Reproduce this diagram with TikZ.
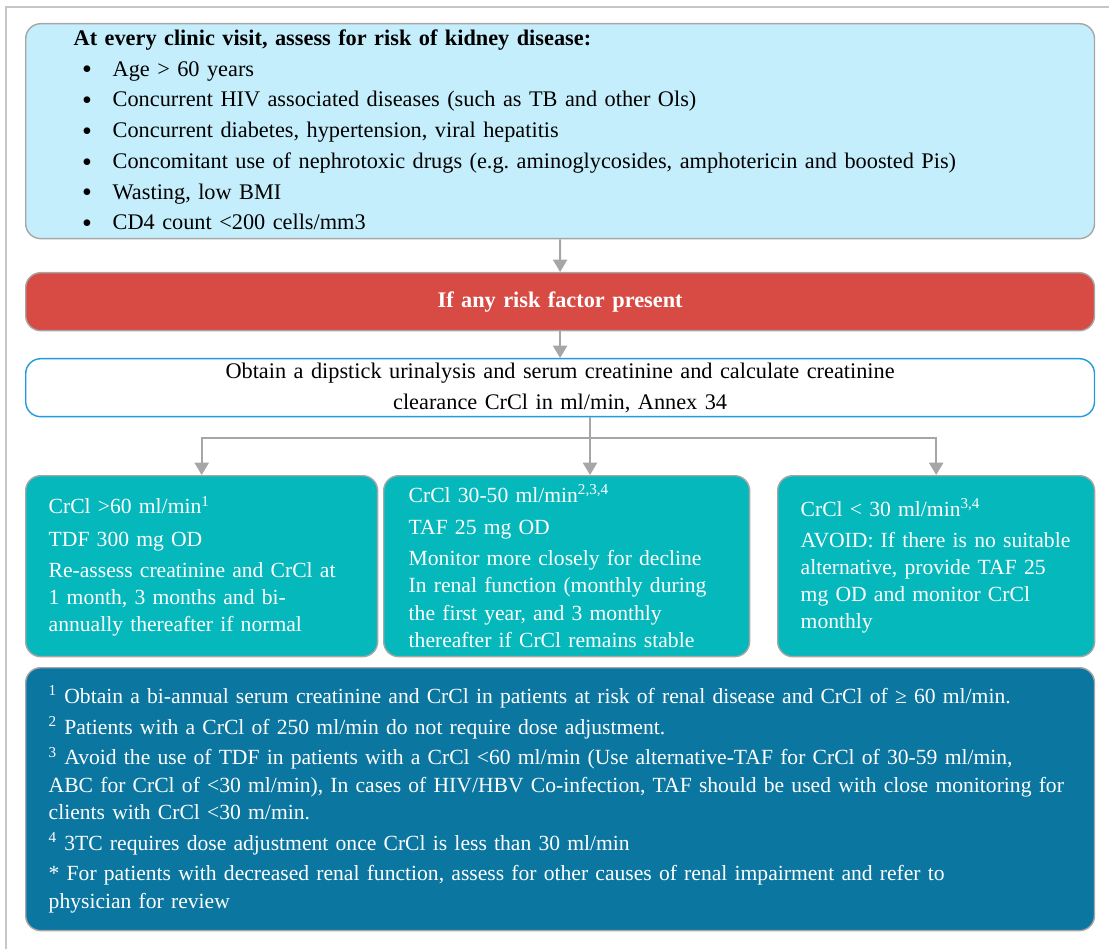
\documentclass[tikz,border=0pt]{standalone}
\usepackage{fontspec}
\setmainfont{Liberation Serif}
\usetikzlibrary{arrows.meta}
\frenchspacing

\definecolor{riskblue}{HTML}{C5EEFC}
\definecolor{riskred}{HTML}{D84B44}
\definecolor{crclteal}{HTML}{05B8BC}
\definecolor{footblue}{HTML}{0B76A0}
\definecolor{obtline}{HTML}{1F9BDE}
\definecolor{edgegray}{HTML}{A6A6A6}

\newcommand{\blt}{\makebox[0.78cm][l]{\hspace{0.17cm}\raisebox{-1.6pt}{\fontsize{16}{16}\selectfont\textbullet}}}

\begin{document}
\begin{tikzpicture}[x=0.02cm, y=-0.02cm,
  box/.style={rounded corners=0.3cm, draw=edgegray, line width=0.8pt,
    anchor=north west, align=left, font=\fontsize{12.3}{15.5}\selectfont},
  wide/.style={font=\fontsize{12.7}{15.5}\selectfont},
  flow/.style={draw=edgegray, line width=1.2pt, -{Triangle[length=7pt,width=8pt]}}]
\useasboundingbox (0,0) rectangle (1109,949);

% outer frame
\draw[gray!45, line width=1.2pt] (1109,7) -- (6,7) -- (6,949);

% risk assessment
\node[box, wide, fill=riskblue, minimum width=21.38cm, minimum height=4.3cm,
  text width=19.46cm, inner xsep=0.96cm, inner ysep=0pt] (risk) at (25,23)
  {{\bfseries At every clinic visit, assess for risk of kidney disease:}\\[2pt]
   \blt Age > 60 years\\[2pt]
   \blt Concurrent HIV associated diseases (such as TB and other Ols)\\[2pt]
   \blt Concurrent diabetes, hypertension, viral hepatitis\\[2pt]
   \blt Concomitant use of nephrotoxic drugs (e.g. aminoglycosides, amphotericin and boosted Pis)\\[2pt]
   \blt Wasting, low BMI\\[2pt]
   \blt CD4 count <200 cells/mm3};

\node[box, wide, fill=riskred, text=white, minimum width=21.38cm, minimum height=1.16cm,
  text width=21cm, align=center, inner xsep=0.19cm, inner ysep=0pt] (present) at (25,272)
  {\bfseries If any risk factor present};

\node[box, wide, draw=obtline, fill=white, minimum width=21.38cm, minimum height=1.16cm,
  text width=21cm, align=center, inner xsep=0.19cm, inner ysep=0pt] (obtain) at (25,358)
  {Obtain a dipstick urinalysis and serum creatinine and calculate creatinine\\[2pt]
   clearance CrCl in ml/min, Annex 34};

% three CrCl branches
\node[box, fill=crclteal, text=white, minimum width=7.04cm, minimum height=3.62cm,
  text width=6.12cm, inner xsep=0.46cm, inner ysep=0pt] (high) at (25,475)
  {CrCl >60 ml/min\textsuperscript{1}\\[3pt]
   TDF 300 mg OD\\[2pt]
   Re-assess creatinine and CrCl at\\
   1 month, 3 months and bi-\\
   annually thereafter if normal};

\node[box, fill=crclteal, text=white, minimum width=7.32cm, minimum height=3.62cm,
  text width=6.32cm, inner xsep=0.5cm, inner ysep=0pt] (mid) at (383,475)
  {CrCl 30-50 ml/min\textsuperscript{2,3,4}\\[3pt]
   TAF 25 mg OD\\[2pt]
   Monitor more closely for decline\\
   In renal function (monthly during\\
   the first year, and 3 monthly\\
   thereafter if CrCl remains stable};

\node[box, fill=crclteal, text=white, minimum width=6.34cm, minimum height=3.62cm,
  text width=5.42cm, inner xsep=0.46cm, inner ysep=0pt] (low) at (777,475)
  {CrCl < 30 ml/min\textsuperscript{3,4}\\[2pt]
   AVOID: If there is no suitable\\
   alternative, provide TAF 25\\
   mg OD and monitor CrCl\\
   monthly};

% footnotes
\node[box, fill=footblue, text=white, minimum width=21.38cm, minimum height=5.26cm,
  text width=20.46cm, inner xsep=0.46cm, inner ysep=0pt] (notes) at (25,667)
  {\textsuperscript{1} Obtain a bi-annual serum creatinine and CrCl in patients at risk of renal disease and CrCl of ≥ 60 ml/min.\\[2pt]
   \textsuperscript{2} Patients with a CrCl of 250 ml/min do not require dose adjustment.\\[2pt]
   \textsuperscript{3} Avoid the use of TDF in patients with a CrCl <60 ml/min (Use alternative-TAF for CrCl of 30-59 ml/min,\\
   ABC for CrCl of <30 ml/min), In cases of HIV/HBV Co-infection, TAF should be used with close monitoring for\\
   clients with CrCl <30 m/min.\\[2pt]
   \textsuperscript{4} 3TC requires dose adjustment once CrCl is less than 30 ml/min\\[2pt]
   * For patients with decreased renal function, assess for other causes of renal impairment and refer to\\
   physician for review};

% connectors
\coordinate (split) at (590,438);
\draw[flow] (risk) -- (present);
\draw[flow] (present) -- (obtain);
\draw[draw=edgegray, line width=1.2pt] (split |- obtain.south) -- (split);
\draw[flow] (split) -| (high.north);
\draw[flow] (split) -- (split |- mid.north);
\draw[flow] (split) -| (low.north);
\end{tikzpicture}
\end{document}
